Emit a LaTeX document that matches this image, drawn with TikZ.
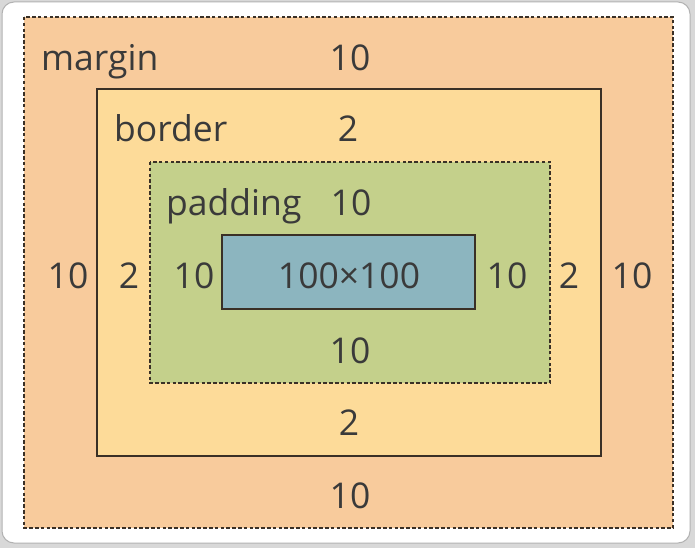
\documentclass[tikz,border=0pt]{standalone}
\usepackage{fontspec}
\setmainfont{Open Sans}
\definecolor{bgc}{HTML}{D8D8D8}
\definecolor{marginc}{HTML}{F8CB9C}
\definecolor{borderc}{HTML}{FDDB99}
\definecolor{paddingc}{HTML}{C4D08B}
\definecolor{contentc}{HTML}{8CB5BF}
\definecolor{txt}{HTML}{3A3A3A}
\definecolor{edge}{HTML}{3A3026}
\tikzset{
  lbl/.style={text=txt, font=\fontsize{35.5}{40}\selectfont, inner sep=0pt, anchor=base},
  dashbox/.style={draw=edge, line width=2pt, dash pattern=on 3.5pt off 2.3pt},
  solidbox/.style={draw=edge, line width=1.7pt},
}
\begin{document}
\begin{tikzpicture}[x=1pt,y=-1pt]
\useasboundingbox (0,0) rectangle (695,548);
\fill[bgc] (0,0) rectangle (695,548);
\fill[white, draw=gray!60, line width=1pt, rounded corners=12pt] (2,2) rectangle (690,543);
% boxes
\path[fill=marginc, dashbox] (24,17) rectangle (673,528);
\path[fill=borderc, solidbox] (97,89) rectangle (601,456);
\path[fill=paddingc, dashbox] (150,162) rectangle (550,383);
\node[draw=edge, line width=1.7pt, fill=contentc, minimum width=253pt, minimum height=74pt, inner sep=0pt] (content) at (348.5,272) {};
% labels
\node[lbl, anchor=base west] (lm) at (41,71) {margin};
\node[lbl] (mt) at (350,71) {10};
\node[lbl, anchor=base west] (lb) at (114,142) {border};
\node[lbl] (bt) at (348,142) {2};
\node[lbl, anchor=base west] (lp) at (166,215) {padding};
\node[lbl] (pt) at (351,215) {10};
\node[lbl] (ct) at (349,288) {100×100};
\node[lbl] (ml) at (68,288) {10};
\node[lbl] (bl) at (129,288) {2};
\node[lbl] (pl) at (194,288) {10};
\node[lbl] (pr) at (507,288) {10};
\node[lbl] (br) at (569,288) {2};
\node[lbl] (mr) at (632,288) {10};
\node[lbl] (pb) at (350,363) {10};
\node[lbl] (bb) at (349,435) {2};
\node[lbl] (mb) at (350,508) {10};
\end{tikzpicture}
\end{document}
